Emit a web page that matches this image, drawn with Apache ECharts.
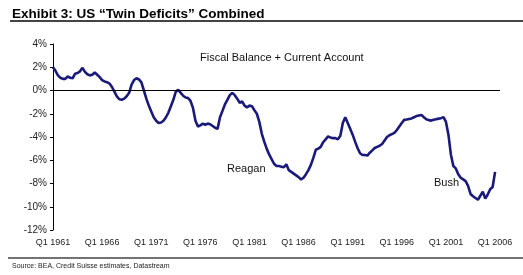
<!DOCTYPE html>
<html>
<head>
<meta charset="utf-8">
<script src="https://cdn.jsdelivr.net/npm/echarts@6/dist/echarts.min.js"></script>
<style>
  html, body { margin: 0; padding: 0; background: #fff; }
  #chart { width: 523px; height: 275px; }
</style>
</head>
<body>
<div id="chart"></div>
<script>
// quarterly combined balance, % of GDP, Q1 1961 .. Q1 2006
const startYear = 1961;
const balance = [
  2.0, 1.7, 1.3, 1.1,        // 1961
  1.0, 1.0, 1.2, 1.1,        // 1962
  1.05, 1.45, 1.5, 1.65,     // 1963
  1.95, 1.6, 1.4, 1.3,       // 1964
  1.35, 1.55, 1.35, 1.15,    // 1965
  0.9, 0.78, 0.72, 0.6,      // 1966
  0.3, -0.1, -0.5, -0.75,    // 1967
  -0.8, -0.7, -0.5, -0.2,    // 1968
  0.5, 0.9, 1.05, 0.95,      // 1969
  0.7, 0.0, -0.7, -1.3,      // 1970
  -1.8, -2.3, -2.6, -2.8,    // 1971
  -2.75, -2.6, -2.3, -1.9,   // 1972
  -1.35, -0.8, -0.1, 0.05,   // 1973
  -0.2, -0.45, -0.6, -0.65,  // 1974
  -0.9, -1.5, -2.6, -3.1,    // 1975
  -3.0, -2.85, -2.95, -2.85, // 1976
  -2.9, -3.05, -3.2, -3.3,   // 1977
  -2.3, -1.75, -1.2, -0.8,   // 1978
  -0.4, -0.2, -0.4, -0.7,    // 1979
  -1.05, -0.95, -1.3, -1.45, // 1980
  -1.3, -1.35, -1.7, -2.0,   // 1981
  -2.7, -3.7, -4.4, -5.0,    // 1982
  -5.5, -5.9, -6.3, -6.5,    // 1983
  -6.5, -6.55, -6.6, -6.35,  // 1984
  -6.85, -7.0, -7.15, -7.3,  // 1985
  -7.45, -7.65, -7.5, -7.2,  // 1986
  -6.85, -6.4, -5.8, -5.1,   // 1987
  -5.0, -4.85, -4.45, -4.2,  // 1988
  -3.95, -4.05, -4.1, -4.1,  // 1989
  -4.2, -3.9, -2.8, -2.3,    // 1990
  -2.8, -3.3, -3.8, -4.4,    // 1991
  -4.95, -5.4, -5.55, -5.55, // 1992
  -5.6, -5.35, -5.15, -4.95, // 1993
  -4.85, -4.75, -4.6, -4.3,  // 1994
  -4.0, -3.85, -3.75, -3.65, // 1995
  -3.4, -3.1, -2.8, -2.53,   // 1996
  -2.5, -2.45, -2.4, -2.3,   // 1997
  -2.2, -2.15, -2.1, -2.3,   // 1998
  -2.47, -2.55, -2.59, -2.52,// 1999
  -2.47, -2.42, -2.38, -2.29,// 2000
  -2.7, -3.8, -5.5, -6.5,    // 2001
  -6.7, -7.2, -7.5, -7.65,   // 2002
  -7.8, -8.2, -8.9, -9.1,    // 2003
  -9.25, -9.4, -9.05, -8.7,  // 2004
  -9.3, -8.95, -8.5, -8.3,   // 2005
  -7.0                       // 2006
];
const quarterCount = 183; // axis runs a little past the last point
const quarters = [];
for (let i = 0; i < quarterCount; i++) {
  quarters.push('Q' + (i % 4 + 1) + ' ' + (startYear + Math.floor(i / 4)));
}
const yTicks = { min: -12, max: 4, step: 2 };
const notes = ['Fiscal Balance + Current Account', 'Reagan', 'Bush'];

const font = 'Liberation Sans, Arial, sans-serif';
const chart = echarts.init(document.getElementById('chart'));
chart.setOption({
  animation: false,
  grid: { left: 53, right: 23, top: 44, bottom: 45 },
  xAxis: {
    type: 'category',
    data: quarters,
    boundaryGap: false,
    axisLine: { show: false, onZero: false },
    axisTick: { show: false },
    axisLabel: { interval: 19, fontSize: 9, color: '#222', fontFamily: font, margin: 8 },
    splitLine: { show: false }
  },
  yAxis: {
    type: 'value',
    min: yTicks.min,
    max: yTicks.max,
    interval: yTicks.step,
    axisLine: { show: true, lineStyle: { color: '#000', width: 1 } },
    axisTick: { show: true, length: 3, lineStyle: { color: '#000' } },
    axisLabel: { formatter: '{value}%', fontSize: 10, color: '#222', fontFamily: font, margin: 6 },
    splitLine: { show: false }
  },
  series: [{
    type: 'line',
    data: balance,
    symbol: 'none',
    lineStyle: { color: '#1a1a7a', width: 2.6 },
    markLine: {
      silent: true,
      symbol: ['none', 'none'],
      label: { show: false },
      lineStyle: { color: '#000', width: 1, type: 'solid' },
      data: [{ yAxis: 0 }]
    }
  }],
  graphic: [
    { type: 'text', left: 12, top: 7, style: { text: 'Exhibit 3: US \u201cTwin Deficits\u201d Combined', fontSize: 13.5, fontWeight: 'bold', fontFamily: font, fill: '#000' } },
    { type: 'line', shape: { x1: 10, y1: 21, x2: 523, y2: 21 }, style: { stroke: '#444', lineWidth: 2 } },
    { type: 'line', shape: { x1: 8, y1: 258, x2: 523, y2: 258 }, style: { stroke: '#444', lineWidth: 1.5 } },
    { type: 'text', left: 12, top: 263, style: { text: 'Source: BEA, Credit Suisse estimates, Datastream', fontSize: 7, fontFamily: font, fill: '#222' } },
    { type: 'text', left: 200, top: 52, style: { text: notes[0], fontSize: 11, fontFamily: font, fill: '#111' } },
    { type: 'text', left: 227, top: 163, style: { text: notes[1], fontSize: 11, fontFamily: font, fill: '#111' } },
    { type: 'text', left: 434, top: 177, style: { text: notes[2], fontSize: 11, fontFamily: font, fill: '#111' } }
  ]
});
</script>
</body>
</html>
